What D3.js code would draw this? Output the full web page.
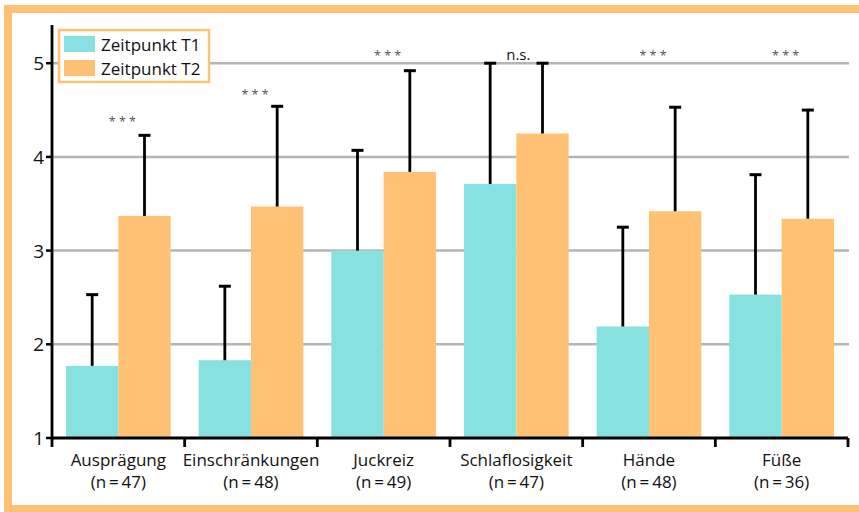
<!DOCTYPE html>
<html>
<head>
<meta charset="utf-8">
<script src="https://cdn.jsdelivr.net/npm/d3@7"></script>
<style>
  html, body { margin: 0; padding: 0; background: #fff; }
  svg { display: block; font-family: "Open Sans", "Noto Sans", sans-serif; }
</style>
</head>
<body>
<svg id="chart" width="859" height="512"></svg>
<script>
// Mean scores at the two time points, with upper standard deviation bounds
const categories = ["Ausprägung", "Einschränkungen", "Juckreiz", "Schlaflosigkeit", "Hände", "Füße"];
const sampleSizes = [47, 48, 49, 47, 48, 36];
const meanT1 = [1.77, 1.83, 3.00, 3.71, 2.19, 2.53];
const meanT2 = [3.37, 3.47, 3.84, 4.25, 3.42, 3.34];
const errTopT1 = [2.53, 2.62, 4.07, 5.00, 3.25, 3.81];
const errTopT2 = [4.23, 4.54, 4.92, 5.00, 4.53, 4.50];
const significance = ["* * *", "* * *", "* * *", "n.s.", "* * *", "* * *"];
const significanceLevel = [4.38, 4.67, 5.09, 5.09, 5.09, 5.09];
const seriesNames = ["Zeitpunkt T1", "Zeitpunkt T2"];
const yTicks = [1, 2, 3, 4, 5];

const colors = ["#86E1E0", "#FFC174"];
const frameColor = "#FFC174";

const svg = d3.select("#chart");

// Outer frame
svg.append("rect")
  .attr("x", 8).attr("y", 9)
  .attr("width", 900).attr("height", 500)
  .attr("fill", "none")
  .attr("stroke", frameColor)
  .attr("stroke-width", 8);

const plotLeft = 52, plotRight = 848, plotTop = 25, baseline = 438;

const y = d3.scaleLinear().domain([1, 5]).range([baseline, 63.2]);
const x0 = d3.scaleBand().domain(categories).range([plotLeft, plotRight])
  .paddingInner(0.211).paddingOuter(0.1055);
const x1 = d3.scaleBand().domain([0, 1]).range([0, x0.bandwidth()]);

// Horizontal grid lines
svg.append("g").selectAll("line")
  .data(yTicks.filter(t => t > 1))
  .join("line")
  .attr("x1", plotLeft).attr("x2", 849)
  .attr("y1", d => y(d)).attr("y2", d => y(d))
  .attr("stroke", "#b5b5b5").attr("stroke-width", 2.5);

const rows = categories.map((c, i) => ({
  cat: c,
  vals: [
    { s: 0, v: meanT1[i], e: errTopT1[i] },
    { s: 1, v: meanT2[i], e: errTopT2[i] }
  ]
}));

const groups = svg.append("g").selectAll("g")
  .data(rows).join("g")
  .attr("transform", d => `translate(${x0(d.cat)},0)`);

// Bars
groups.selectAll("rect")
  .data(d => d.vals).join("rect")
  .attr("x", d => x1(d.s))
  .attr("width", x1.bandwidth())
  .attr("y", d => y(d.v))
  .attr("height", d => y(1) - y(d.v))
  .attr("fill", d => colors[d.s]);

// Upper error bars
const err = groups.selectAll("g.err")
  .data(d => d.vals).join("g").attr("class", "err");
err.append("line")
  .attr("x1", d => x1(d.s) + x1.bandwidth() / 2)
  .attr("x2", d => x1(d.s) + x1.bandwidth() / 2)
  .attr("y1", d => y(d.v)).attr("y2", d => y(d.e))
  .attr("stroke", "#000").attr("stroke-width", 2.8);
err.append("line")
  .attr("x1", d => x1(d.s) + x1.bandwidth() / 2 - 6)
  .attr("x2", d => x1(d.s) + x1.bandwidth() / 2 + 6)
  .attr("y1", d => y(d.e)).attr("y2", d => y(d.e))
  .attr("stroke", "#000").attr("stroke-width", 3);

// Significance markers
svg.append("g").selectAll("text")
  .data(categories).join("text")
  .attr("x", (d, i) => x0(d) + x0.bandwidth() / 2 + (significance[i] === "n.s." ? 2 : 4))
  .attr("y", (d, i) => y(significanceLevel[i]) + 5)
  .attr("text-anchor", "middle")
  .attr("font-size", (d, i) => significance[i] === "n.s." ? 15 : 12.5)
  .attr("fill", (d, i) => significance[i] === "n.s." ? "#111" : "#555")
  .text((d, i) => significance[i]);

// Y axis
svg.append("line")
  .attr("x1", plotLeft).attr("x2", plotLeft)
  .attr("y1", plotTop).attr("y2", baseline + 9)
  .attr("stroke", "#000").attr("stroke-width", 2.8);
const yt = svg.append("g").selectAll("g")
  .data(yTicks).join("g");
yt.append("line")
  .attr("x1", plotLeft - 6).attr("x2", plotLeft)
  .attr("y1", d => y(d)).attr("y2", d => y(d))
  .attr("stroke", "#000").attr("stroke-width", 2.5);
yt.append("text")
  .attr("x", plotLeft - 8).attr("y", d => y(d) + 7)
  .attr("text-anchor", "end")
  .attr("font-size", 19)
  .attr("fill", "#111")
  .text(d => d);

// X axis with category separators
svg.append("line")
  .attr("x1", plotLeft).attr("x2", plotRight)
  .attr("y1", baseline).attr("y2", baseline)
  .attr("stroke", "#000").attr("stroke-width", 2.8);
const sepPositions = categories.map(c => x0(c) - x0.step() * x0.paddingInner() / 2).slice(1).concat([plotRight]);
svg.append("g").selectAll("line")
  .data(sepPositions).join("line")
  .attr("x1", d => d).attr("x2", d => d)
  .attr("y1", baseline).attr("y2", baseline + 9)
  .attr("stroke", "#000").attr("stroke-width", 2.8);

// Category labels
const lab = svg.append("g").selectAll("text")
  .data(categories).join("text")
  .attr("text-anchor", "middle")
  .attr("font-size", 17)
  .attr("fill", "#111");
lab.append("tspan")
  .attr("x", d => x0(d) + x0.bandwidth() / 2)
  .attr("y", 466)
  .text(d => d);
lab.append("tspan")
  .attr("x", d => x0(d) + x0.bandwidth() / 2)
  .attr("y", 488)
  .text((d, i) => `(n\u2009=\u2009${sampleSizes[i]})`);

// Legend
const legend = svg.append("g");
legend.append("rect")
  .attr("x", 59).attr("y", 30).attr("width", 150).attr("height", 52)
  .attr("fill", "#fff")
  .attr("stroke", frameColor).attr("stroke-width", 2.5);
const li = legend.selectAll("g").data(seriesNames).join("g")
  .attr("transform", (d, i) => `translate(64,${36 + i * 24})`);
li.append("rect")
  .attr("width", 31).attr("height", 16)
  .attr("fill", (d, i) => colors[i]);
li.append("text")
  .attr("x", 37).attr("y", 15)
  .attr("font-size", 17)
  .attr("fill", "#111")
  .text(d => d);
</script>
</body>
</html>
